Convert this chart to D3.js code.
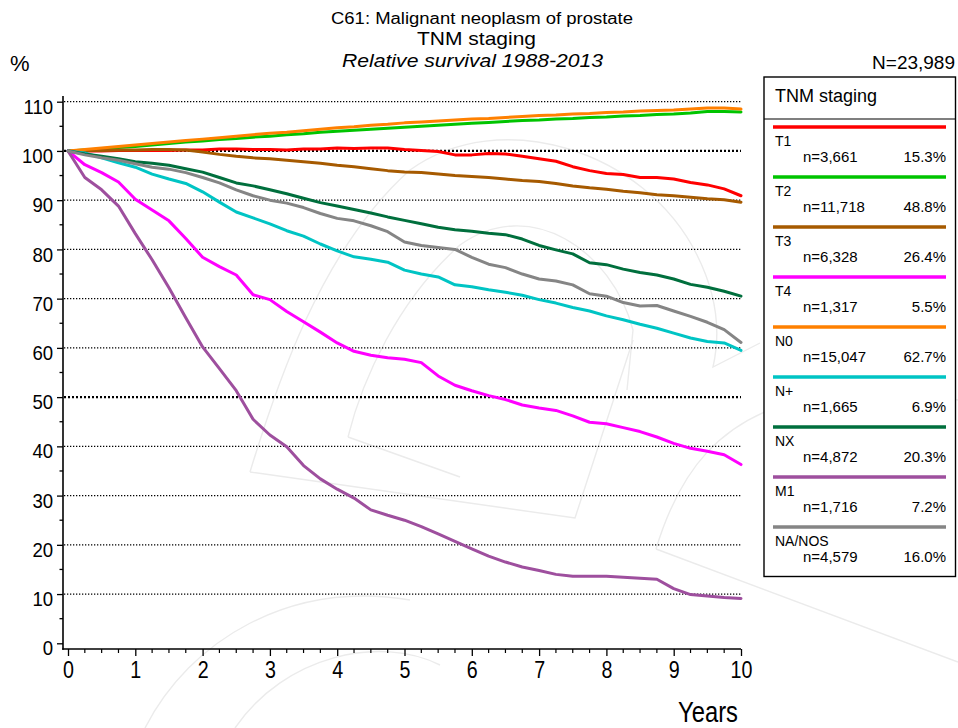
<!DOCTYPE html>
<html><head><meta charset="utf-8">
<script src="https://cdn.jsdelivr.net/npm/d3@7/dist/d3.min.js"></script>
<style>body{margin:0;background:#fff}svg{display:block}</style>
</head><body>
<script>
// ---- data ----
const years = [0,0.25,0.5,0.75,1,1.25,1.5,1.75,2,2.25,2.5,2.75,3,3.25,3.5,3.75,4,4.25,4.5,4.75,5,5.25,5.5,5.75,6,6.25,6.5,6.75,7,7.25,7.5,7.75,8,8.25,8.5,8.75,9,9.25,9.5,9.75,10];
const T1  = [100,100,100,100.1,100.1,100.1,100.1,100.2,100.2,100.4,100.4,100.3,100.3,100.2,100.4,100.4,100.6,100.5,100.6,100.6,100.3,100.1,99.9,99.2,99.2,99.5,99.4,98.9,98.4,97.9,96.8,96.0,95.4,95.2,94.6,94.6,94.3,93.6,93.1,92.3,90.9];
const T2  = [100,100.2,100.4,100.7,100.9,101.2,101.5,101.8,102.0,102.3,102.5,102.8,103.0,103.3,103.5,103.8,104.0,104.2,104.4,104.6,104.8,105.0,105.2,105.4,105.6,105.8,106.0,106.2,106.3,106.5,106.6,106.8,106.9,107.1,107.2,107.4,107.5,107.7,108.0,108.0,107.9];
const T3  = [100,100.1,100.1,100.2,100.2,100.3,100.3,100.2,99.8,99.3,98.9,98.6,98.4,98.1,97.8,97.5,97.1,96.8,96.4,96.0,95.7,95.6,95.3,95.0,94.8,94.6,94.3,94.0,93.8,93.4,92.9,92.5,92.2,91.8,91.5,91.1,90.9,90.6,90.3,90.1,89.6];
const T4  = [100,97.2,95.6,93.7,90.2,88.0,85.8,82.2,78.4,76.5,74.8,70.8,69.8,67.4,65.3,63.2,61.0,59.3,58.5,58.0,57.7,57.0,54.3,52.4,51.3,50.3,49.5,48.4,47.8,47.3,46.2,44.9,44.6,43.8,43.0,41.9,40.6,39.6,39.0,38.3,36.3];
const N0  = [100,100.3,100.6,100.9,101.2,101.5,101.8,102.1,102.4,102.7,103.0,103.3,103.6,103.8,104.1,104.4,104.7,104.9,105.2,105.4,105.7,105.9,106.1,106.3,106.5,106.6,106.8,107.0,107.2,107.3,107.5,107.6,107.8,107.9,108.1,108.2,108.3,108.5,108.7,108.7,108.5];
const Npos= [100,99.6,98.6,97.6,96.7,95.3,94.3,93.4,91.7,89.6,87.6,86.4,85.2,83.8,82.7,81.1,79.7,78.5,78.0,77.4,75.8,75.0,74.4,72.8,72.4,71.8,71.3,70.7,69.8,69.1,68.2,67.5,66.5,65.7,64.8,64.0,63.0,62.0,61.3,61.0,59.5];
const NX  = [100,99.4,98.9,98.4,97.8,97.5,97.1,96.4,95.7,94.6,93.5,92.9,92.1,91.3,90.4,89.5,88.8,88.1,87.4,86.6,85.9,85.2,84.5,84.0,83.7,83.3,83.0,82.1,80.8,79.9,79.1,77.3,76.9,76.0,75.3,74.8,74.0,72.9,72.3,71.5,70.5];
const M1  = [100,94.6,92.1,88.8,83.2,77.9,72.2,66.1,60.2,55.8,51.3,45.5,42.3,39.9,36.1,33.4,31.3,29.5,27.1,26.0,25.0,23.7,22.2,20.7,19.2,17.7,16.5,15.5,14.8,14.0,13.6,13.6,13.6,13.4,13.2,13.0,11.1,9.9,9.6,9.3,9.1];
const NANOS=[100,99.2,98.6,98.1,97.4,96.7,96.3,95.6,94.6,93.5,92.1,90.9,90.0,89.4,88.5,87.3,86.3,85.8,84.8,83.6,81.5,80.8,80.4,80.0,78.4,77.0,76.3,75.0,74.0,73.6,72.8,71.0,70.5,69.2,68.5,68.6,67.5,66.4,65.2,63.7,61.1];

const seriesNames = ["T1","T2","T3","T4","N0","N+","NX","M1","NA/NOS"];
const seriesValues = [T1,T2,T3,T4,N0,Npos,NX,M1,NANOS];
const seriesN = ["n=3,661","n=11,718","n=6,328","n=1,317","n=15,047","n=1,665","n=4,872","n=1,716","n=4,579"];
const seriesPct = ["15.3%","48.8%","26.4%","5.5%","62.7%","6.9%","20.3%","7.2%","16.0%"];
const colors = ["#ff0000","#00c400","#a65a00","#ff00ff","#ff8000","#00c4c4","#006f3d","#9e4f9e","#858585"];

const yTicks = [0,10,20,30,40,50,60,70,80,90,100,110];
const yMinor = [5,15,25,35,45,55,65,75,85,95,105];
const xTicks = [0,1,2,3,4,5,6,7,8,9,10];
const xMinor = [0.25,0.5,0.75,1.25,1.5,1.75,2.25,2.5,2.75,3.25,3.5,3.75,4.25,4.5,4.75,5.25,5.5,5.75,6.25,6.5,6.75,7.25,7.5,7.75,8.25,8.5,8.75,9.25,9.5,9.75];

const titleLines = ["C61: Malignant neoplasm of prostate","TNM staging","Relative survival 1988-2013"];
const totalN = "N=23,989";
const legendTitle = "TNM staging";

// ---- drawing ----
const W = 958, H = 728;
const FONT = "'Liberation Sans', Arial, Helvetica, sans-serif";
const svg = d3.select("body").append("svg").attr("width", W).attr("height", H)
  .style("font-family", FONT);

const x = d3.scaleLinear().domain([0, 10]).range([68, 741]);
const y = d3.scaleLinear().domain([0, 110]).range([643.3, 101.7]);
const axisX0 = 63, axisY0 = 649, plotTop = 96;

// watermark (decorative, faint)
const wm = svg.append("g").attr("fill", "none").attr("stroke", "#ebebeb").attr("stroke-width", 1.4);
[
  "M250,472 C275,390 320,250 410,170 C500,105 645,150 697,255 C722,305 718,345 713,367 L760,343",
  "M250,472 L575,518 L633,340",
  "M348,437 C362,380 398,300 460,245 C530,195 612,250 633,330 L627,390",
  "M348,437 L460,477",
  "M145,728 C190,640 290,580 410,600",
  "M235,728 C285,655 380,635 440,665",
  "M656,549 C680,470 720,420 800,400 C860,388 920,392 958,400",
  "M656,549 L958,662"
].forEach(d => wm.append("path").attr("d", d));

// grid
const grid = svg.append("g");
grid.selectAll("line").data(yTicks.filter(v => v > 0)).join("line")
  .attr("x1", axisX0 + 1).attr("x2", x(10))
  .attr("y1", d => y(d)).attr("y2", d => y(d))
  .attr("stroke", "#000")
  .attr("stroke-width", d => (d === 50 || d === 100) ? 2.2 : 1.2)
  .attr("stroke-dasharray", d => (d === 50 || d === 100) ? "2,2" : "1.3,1.7");

// y axis
const yAxisG = svg.append("g").attr("transform", `translate(${axisX0},0)`)
  .call(d3.axisLeft(y).tickValues(yTicks).tickSize(6).tickPadding(4).tickFormat(d3.format("d")));
yAxisG.select(".domain").remove();
yAxisG.selectAll(".tick line").attr("stroke", "#000").attr("stroke-width", 1.3);
yAxisG.selectAll(".tick text").attr("font-size", 20).attr("font-family", FONT).attr("fill", "#000")
  .attr("dy", "0.58em").attr("transform", "scale(0.93,1)").attr("x", -10.7);
yAxisG.append("g").selectAll("line").data(yMinor).join("line")
  .attr("x1", -3.5).attr("x2", 0).attr("y1", d => y(d)).attr("y2", d => y(d))
  .attr("stroke", "#000").attr("stroke-width", 1.3);
yAxisG.append("line").attr("x1", 0).attr("x2", 0).attr("y1", plotTop).attr("y2", axisY0 + 0.7)
  .attr("stroke", "#000").attr("stroke-width", 1.6);

// x axis
const xAxisG = svg.append("g").attr("transform", `translate(0,${axisY0})`)
  .call(d3.axisBottom(x).tickValues(xTicks).tickSize(7).tickPadding(5).tickFormat(d3.format("d")));
xAxisG.select(".domain").remove();
xAxisG.selectAll(".tick line").attr("stroke", "#000").attr("stroke-width", 1.3);
xAxisG.selectAll(".tick text").attr("font-size", 24).attr("font-family", FONT).attr("fill", "#000")
  .attr("transform", "scale(0.82,1)");
xAxisG.append("g").selectAll("line").data(xMinor).join("line")
  .attr("x1", d => x(d)).attr("x2", d => x(d)).attr("y1", 0).attr("y2", 4)
  .attr("stroke", "#000").attr("stroke-width", 1.2);
xAxisG.append("line").attr("x1", axisX0 - 0.8).attr("x2", x(10)).attr("y1", 0).attr("y2", 0)
  .attr("stroke", "#000").attr("stroke-width", 1.6);

// axis titles
svg.append("text").attr("transform", `translate(738,722) scale(0.82,1)`)
  .attr("text-anchor", "end").attr("font-size", 29).text("Years");
svg.append("text").attr("x", 10).attr("y", 71).attr("font-size", 22).text("%");

// titles
svg.append("text").attr("x", 331).attr("y", 24).attr("font-size", 16)
  .attr("textLength", 302).attr("lengthAdjust", "spacingAndGlyphs").text(titleLines[0]);
svg.append("text").attr("x", 417).attr("y", 45).attr("font-size", 19)
  .attr("textLength", 119).attr("lengthAdjust", "spacingAndGlyphs").text(titleLines[1]);
svg.append("text").attr("x", 342).attr("y", 67).attr("font-size", 19).attr("font-style", "italic")
  .attr("textLength", 261).attr("lengthAdjust", "spacingAndGlyphs").text(titleLines[2]);
svg.append("text").attr("x", 955).attr("y", 69).attr("font-size", 19).attr("text-anchor", "end")
  .text(totalN);

// survival curves
const line = d3.line().x((d, i) => x(years[i])).y(d => y(d));
svg.append("g").selectAll("path").data(seriesValues).join("path")
  .attr("d", d => line(d))
  .attr("fill", "none")
  .attr("stroke", (d, i) => colors[i])
  .attr("stroke-width", 3)
  .attr("stroke-linejoin", "round")
  .attr("stroke-linecap", "round");

// legend
const lg = svg.append("g");
lg.append("rect").attr("x", 764).attr("y", 77).attr("width", 191.5).attr("height", 499.5)
  .attr("fill", "#fff").attr("stroke", "#000").attr("stroke-width", 1.4);
lg.append("line").attr("x1", 764).attr("x2", 955.5).attr("y1", 119).attr("y2", 119)
  .attr("stroke", "#000").attr("stroke-width", 1.2);
lg.append("text").attr("x", 775).attr("y", 102).attr("font-size", 18).text(legendTitle);
const ent = lg.selectAll("g.ent").data(seriesNames).join("g").attr("class", "ent")
  .attr("transform", (d, i) => `translate(0,${127 + i * 50})`);
ent.append("line").attr("x1", 773).attr("x2", 946).attr("y1", 0).attr("y2", 0)
  .attr("stroke", (d, i) => colors[i]).attr("stroke-width", 3.6);
ent.append("text").attr("x", 775).attr("y", 19).attr("font-size", 14).text(d => d);
ent.append("text").attr("x", 803).attr("y", 35).attr("font-size", 15).text((d, i) => seriesN[i]);
ent.append("text").attr("x", 946).attr("y", 35).attr("font-size", 15).attr("text-anchor", "end")
  .text((d, i) => seriesPct[i]);
</script>
</body></html>
